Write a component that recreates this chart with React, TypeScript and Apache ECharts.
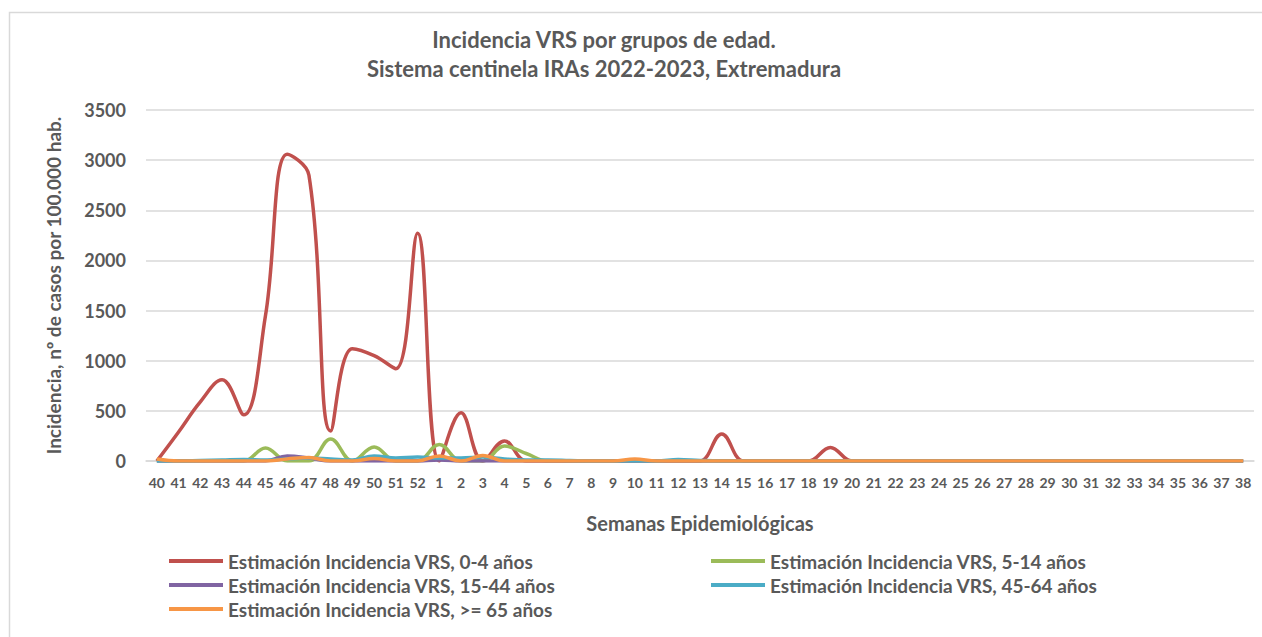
import React, { useEffect, useRef } from "react";
import * as echarts from "echarts";

const weeks: string[] = [
  "40","41","42","43","44","45","46","47","48","49","50","51","52",
  "1","2","3","4","5","6","7","8","9","10","11","12","13","14","15","16","17","18","19","20",
  "21","22","23","24","25","26","27","28","29","30","31","32","33","34","35","36","37","38",
];

// 40..52, 1..38
const age0_4: number[] = [
  0, 290, 590, 810, 460, 1450, 3060, 2850, 300, 1120, 1050, 920, 2270,
  0, 480, 0, 200, 0, 0, 0, 0, 0, 0, 0, 0, 0, 270, 0, 0, 0, 0, 135, 0,
  0, 0, 0, 0, 0, 0, 0, 0, 0, 0, 0, 0, 0, 0, 0, 0, 0, 0,
];
const age5_14: number[] = [
  0, 0, 0, 0, 0, 130, 0, 0, 220, 0, 140, 0, 0,
  165, 0, 0, 150, 75, 0, 0, 0, 0, 0, 0, 0, 0, 0, 0, 0, 0, 0, 0, 0,
  0, 0, 0, 0, 0, 0, 0, 0, 0, 0, 0, 0, 0, 0, 0, 0, 0, 0,
];
const age15_44: number[] = [
  0, 0, 0, 0, 0, 0, 50, 30, 0, 0, 0, 0, 0,
  10, 0, 0, 0, 0, 0, 0, 0, 0, 0, 0, 0, 0, 0, 0, 0, 0, 0, 0, 0,
  0, 0, 0, 0, 0, 0, 0, 0, 0, 0, 0, 0, 0, 0, 0, 0, 0, 0,
];
const age45_64: number[] = [
  0, 0, 5, 10, 15, 10, 20, 30, 20, 10, 50, 30, 40,
  30, 30, 40, 20, 10, 10, 5, 0, 0, 0, 0, 15, 5, 0, 0, 0, 0, 0, 0, 0,
  0, 0, 0, 0, 0, 0, 0, 0, 0, 0, 0, 0, 0, 0, 0, 0, 0, 0,
];
const age65: number[] = [
  20, 0, 0, 0, 0, 0, 20, 35, 0, 0, 25, 0, 0,
  50, 0, 55, 0, 0, 0, 0, 0, 0, 20, 0, 0, 0, 0, 0, 0, 0, 0, 0, 0,
  0, 0, 0, 0, 0, 0, 0, 0, 0, 0, 0, 0, 0, 0, 0, 0, 0, 0,
];

const seriesNames: string[] = [
  "Estimación Incidencia VRS, 0-4 años",
  "Estimación Incidencia VRS, 5-14 años",
  "Estimación Incidencia VRS, 15-44 años",
  "Estimación Incidencia VRS, 45-64 años",
  "Estimación Incidencia VRS, >= 65 años",
];
const seriesColors: string[] = ["#C0504D", "#9BBB59", "#8064A2", "#4BACC6", "#F79646"];
const seriesData: number[][] = [age0_4, age5_14, age15_44, age45_64, age65];

const FONT = "Lato, 'Liberation Sans', sans-serif";
const TXT = "#595959";

export default function App() {
  const ref = useRef<HTMLDivElement>(null);
  useEffect(() => {
    if (!ref.current) return;
    const chart = echarts.init(ref.current, undefined, { renderer: "svg" });
    const legendPos = [
      { left: 169, top: 550 },
      { left: 711, top: 550 },
      { left: 169, top: 574 },
      { left: 711, top: 574 },
      { left: 169, top: 598 },
    ];
    chart.setOption({
      animation: false,
      backgroundColor: "#ffffff",
      textStyle: { fontFamily: FONT },
      graphic: [
        {
          type: "rect",
          silent: true,
          z: -10,
          shape: { x: 9.5, y: 12.5, width: 1300, height: 700 },
          style: { fill: "none", stroke: "#d9d9d9", lineWidth: 1.5 },
        },
        {
          type: "text",
          x: 604,
          y: 39,
          style: {
            text: "Incidencia VRS por grupos de edad.",
            fill: TXT,
            font: `bold 22px ${FONT}`,
            align: "center",
            verticalAlign: "middle",
          },
        },
        {
          type: "text",
          x: 604,
          y: 68,
          style: {
            text: "Sistema centinela IRAs 2022-2023, Extremadura",
            fill: TXT,
            font: `bold 22px ${FONT}`,
            align: "center",
            verticalAlign: "middle",
          },
        },
      ],
      legend: seriesNames.map((n, i) => ({
        data: [n],
        left: legendPos[i].left,
        top: legendPos[i].top,
        padding: 0,
        icon: "rect",
        itemWidth: 54,
        itemHeight: 4,
        itemGap: 0,
        selectedMode: false,
        textStyle: {
          color: TXT,
          fontSize: 19,
          fontWeight: "bold",
          fontFamily: FONT,
          lineHeight: 22,
          padding: [0, 0, 0, 0],
        },
      })),
      grid: { left: 146, right: 8, top: 110, bottom: 176, containLabel: false },
      xAxis: {
        type: "category",
        data: weeks,
        boundaryGap: true,
        name: "Semanas Epidemiológicas",
        nameLocation: "middle",
        nameGap: 52,
        nameTextStyle: { color: TXT, fontSize: 20, fontWeight: "bold", fontFamily: FONT },
        axisLine: { lineStyle: { color: "#d9d9d9", width: 1.5 } },
        axisTick: { show: false },
        axisLabel: {
          color: TXT,
          fontSize: 14,
          fontWeight: "bold",
          fontFamily: FONT,
          interval: 0,
          margin: 14,
        },
      },
      yAxis: {
        type: "value",
        min: 0,
        max: 3500,
        interval: 500,
        name: "Incidencia, nº de casos por 100.000 hab.",
        nameLocation: "middle",
        nameGap: 83,
        nameTextStyle: { color: TXT, fontSize: 19, fontWeight: "bold", fontFamily: FONT },
        axisLine: { show: false },
        axisTick: { show: false },
        axisLabel: {
          color: TXT,
          fontSize: 18,
          fontWeight: "bold",
          fontFamily: FONT,
          margin: 20,
          formatter: (v: number) => String(v),
        },
        splitLine: { lineStyle: { color: "#d9d9d9", width: 1.5 } },
      },
      series: seriesNames.map((n, i) => ({
        name: n,
        type: "line",
        data: seriesData[i],
        smooth: 0.4,
        showSymbol: false,
        symbol: "none",
        color: seriesColors[i],
        lineStyle: { color: seriesColors[i], width: 3.5 },
      })),
    });
    return () => chart.dispose();
  }, []);
  return (
    <div
      ref={ref}
      style={{ position: "fixed", left: 0, top: 0, width: 1262, height: 637, background: "#fff" }}
    />
  );
}
